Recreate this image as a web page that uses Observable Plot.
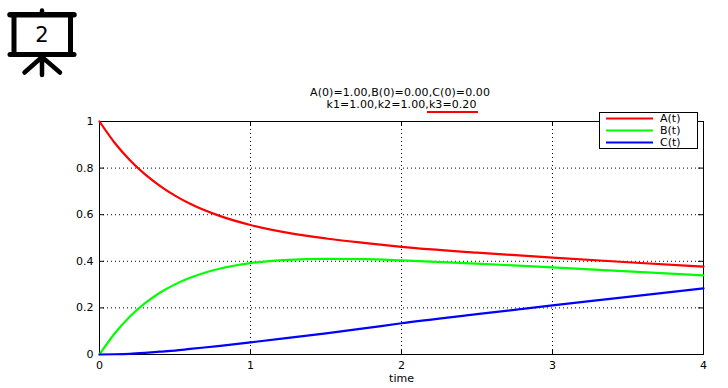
<!DOCTYPE html>
<html><head><meta charset="utf-8">
<script src="https://cdn.jsdelivr.net/npm/d3@7"></script>
<script src="https://cdn.jsdelivr.net/npm/@observablehq/plot@0.6"></script>
<style>
html,body{margin:0;padding:0;background:#fff;overflow:hidden}
#wrap{position:relative;width:728px;height:388px}
#wrap svg{position:absolute;left:0;top:0}
</style></head><body><div id="wrap"></div>
<script>
const FONT = "'DejaVu Sans'";
const SIZE = "11px";
const times = [0,0.1,0.2,0.3,0.4,0.5,0.6,0.8,1,1.25,1.5,1.75,2,2.5,3,3.5,4];
const seriesA = [1,0.909,0.835,0.774,0.724,0.682,0.647,0.594,0.556,0.522,0.498,0.479,0.462,0.437,0.416,0.396,0.377];
const seriesB = [0,0.090,0.162,0.219,0.265,0.301,0.329,0.369,0.392,0.406,0.410,0.409,0.404,0.390,0.374,0.357,0.340];
const seriesC = [0,0.001,0.003,0.007,0.012,0.017,0.024,0.037,0.052,0.071,0.091,0.112,0.134,0.173,0.211,0.247,0.284];
const xTicks = [0,1,2,3,4];
const yTicks = [0,0.2,0.4,0.6,0.8,1];
const names = ["A(t)","B(t)","C(t)"];
const colors = ["#ff0000","#00ff00","#0000ff"];
const titleLines = ["A(0)=1.00,B(0)=0.00,C(0)=0.00","k1=1.00,k2=1.00,k3=0.20"];

const rows = [seriesA,seriesB,seriesC].flatMap((s,i)=>s.map((v,j)=>({t:times[j],v,name:names[i]})));
const innerX = xTicks.slice(1,-1), innerY = yTicks.slice(1,-1);

const chart = Plot.plot({
  width:728,height:388,marginLeft:99,marginRight:25,marginTop:121,marginBottom:34,
  style:{fontFamily:FONT,fontSize:SIZE,color:"#000",background:"transparent"},
  x:{domain:[0,4]},y:{domain:[0,1]},
  color:{domain:names,range:colors},
  marks:[
    Plot.ruleX(innerX,{stroke:"#000",strokeDasharray:"1,3",strokeWidth:1}),
    Plot.ruleY(innerY,{stroke:"#000",strokeDasharray:"1,3",strokeWidth:1}),
    Plot.ruleX(innerX,{insetTop:228,stroke:"#000"}),
    Plot.ruleX(innerX,{insetBottom:228,stroke:"#000"}),
    Plot.ruleY(innerY,{insetRight:599,stroke:"#000"}),
    Plot.ruleY(innerY,{insetLeft:599,stroke:"#000"}),
    Plot.frame({stroke:"#000",strokeWidth:1}),
    Plot.axisX(xTicks,{tickSize:0,tickPadding:7,label:"time",labelAnchor:"center",labelArrow:"none",labelOffset:27,tickFormat:d=>String(d),fill:"#000"}),
    Plot.axisY(yTicks,{tickSize:0,tickPadding:6,label:null,tickFormat:d=>String(d),fill:"#000"}),
    Plot.line(rows,{x:"t",y:"v",stroke:"name",z:"name",strokeWidth:2.2,curve:"monotone-x"})
  ]
});
const wrap = document.getElementById("wrap");
wrap.appendChild(chart);

const ov = d3.select(wrap).append("svg").attr("width",728).attr("height",388)
  .style("font-family",FONT).style("font-size",SIZE);
// titles
ov.selectAll("text.t").data(titleLines).join("text").attr("class","t")
  .attr("x",(d,i)=>i?401.5:400).attr("y",(d,i)=>96+i*12).attr("text-anchor","middle")
  .style("letter-spacing","0.08px").text(d=>d);
ov.append("line").attr("x1",427).attr("x2",478).attr("y1",112).attr("y2",112).attr("stroke","#f00").attr("stroke-width",2);
// legend
ov.append("rect").attr("x",599.5).attr("y",112.5).attr("width",98).attr("height",36).attr("fill","#fff").attr("stroke","#000");
names.forEach((n,i)=>{
  const y=[118.5,130.5,142.5][i];
  ov.append("line").attr("x1",606).attr("x2",653).attr("y1",y).attr("y2",y).attr("stroke",colors[i]).attr("stroke-width",2);
  ov.append("text").attr("x",660).attr("y",y+3.5).text(n);
});
// presentation icon
const ic = ov.append("g").attr("stroke","#000").attr("fill","none").attr("stroke-linecap","round");
ic.append("path").attr("d","M10 14.75H74").attr("stroke-width",5.5);
ic.append("path").attr("d","M10 54.5H74").attr("stroke-width",5);
ic.append("path").attr("d","M42 10.5V14M42 56V75M42 57L24.5 72.5M42 57L60 72.5").attr("stroke-width",4.5);
ic.append("path").attr("d","M14 14V55M70.5 14V55").attr("stroke-width",5).attr("stroke-linecap","butt");
ov.append("text").attr("x",42).attr("y",42).attr("text-anchor","middle")
  .style("font-family","'DejaVu Sans'").style("font-size","21px").text("2");
</script></body></html>
